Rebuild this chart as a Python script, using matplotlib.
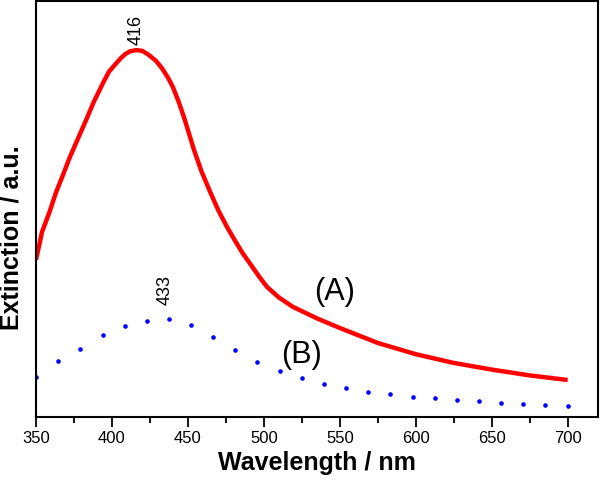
import numpy as np
import matplotlib
matplotlib.use("Agg")
import matplotlib.pyplot as plt
from matplotlib.ticker import MultipleLocator

plt.rcParams['font.family'] = ['Liberation Sans', 'DejaVu Sans']

# curve (A), solid red
wl_a = [350, 354, 359, 363, 368, 372, 377, 383, 388, 394, 398, 403, 406, 409, 412,
        416, 420, 424, 429, 433, 437, 440, 444, 448, 454, 459, 465, 470, 476, 481,
        486, 492, 497, 502, 510, 519, 527, 535, 550, 575, 600, 625, 650, 675, 700]
ext_a = [0.378, 0.445, 0.494, 0.538, 0.584, 0.622, 0.664, 0.714, 0.757, 0.802, 0.830,
         0.851, 0.863, 0.873, 0.879, 0.882, 0.880, 0.871, 0.856, 0.838, 0.815, 0.794,
         0.757, 0.714, 0.642, 0.590, 0.538, 0.497, 0.455, 0.424, 0.394, 0.363, 0.337,
         0.313, 0.287, 0.265, 0.251, 0.237, 0.214, 0.178, 0.151, 0.130, 0.114, 0.100,
         0.089]

# curve (B), blue dots
wl_b = [350, 364.6, 379.2, 393.8, 408.3, 422.9, 437.5, 452.1, 466.7, 481.2, 495.8,
        510.4, 525.0, 539.6, 554.2, 568.7, 583.3, 597.9, 612.5, 627.1, 641.7, 656.2,
        670.8, 685.4, 700]
ext_b = [0.096, 0.135, 0.164, 0.198, 0.219, 0.231, 0.235, 0.220, 0.193, 0.162, 0.133,
         0.111, 0.093, 0.079, 0.069, 0.061, 0.055, 0.049, 0.045, 0.041, 0.038, 0.034,
         0.031, 0.029, 0.026]

fig = plt.figure(figsize=(6, 4.84), dpi=100)
ax = fig.add_axes([0.06, 0.1384, 0.9367, 0.8596])

ax.plot(wl_a, ext_a, color='#ff0000', lw=3.2, solid_capstyle='butt', solid_joinstyle='round')
ax.plot(wl_b, ext_b, 'o', color='#0000ff', ms=3.3, mec='none')

ax.text(416, 0.894, '416', rotation=90, ha='center', va='bottom', fontsize=13)
ax.text(435, 0.269, '433', rotation=90, ha='center', va='bottom', fontsize=13)
ax.text(546.7, 0.300, '(A)', ha='center', va='center', fontsize=22)
ax.text(525, 0.149, '(B)', ha='center', va='center', fontsize=22)

ax.set_xlim(350, 720)
ax.set_ylim(0, 1)
ax.xaxis.set_major_locator(MultipleLocator(50))
ax.xaxis.set_minor_locator(MultipleLocator(25))
ax.set_yticks([])
ax.tick_params(axis='x', which='major', direction='out', length=7, width=1.3,
               labelsize=12, pad=3)
ax.tick_params(axis='x', which='minor', direction='out', length=4, width=1.3)
for s in ax.spines.values():
    s.set_linewidth(1.5)

ax.set_xlabel('Wavelength / nm', fontsize=18, fontweight='bold', labelpad=4)
ax.set_ylabel('Extinction / a.u.', fontsize=18, fontweight='bold')
ax.yaxis.set_label_coords(-0.022, 0.43)

fig.savefig('out.png', dpi=100)
